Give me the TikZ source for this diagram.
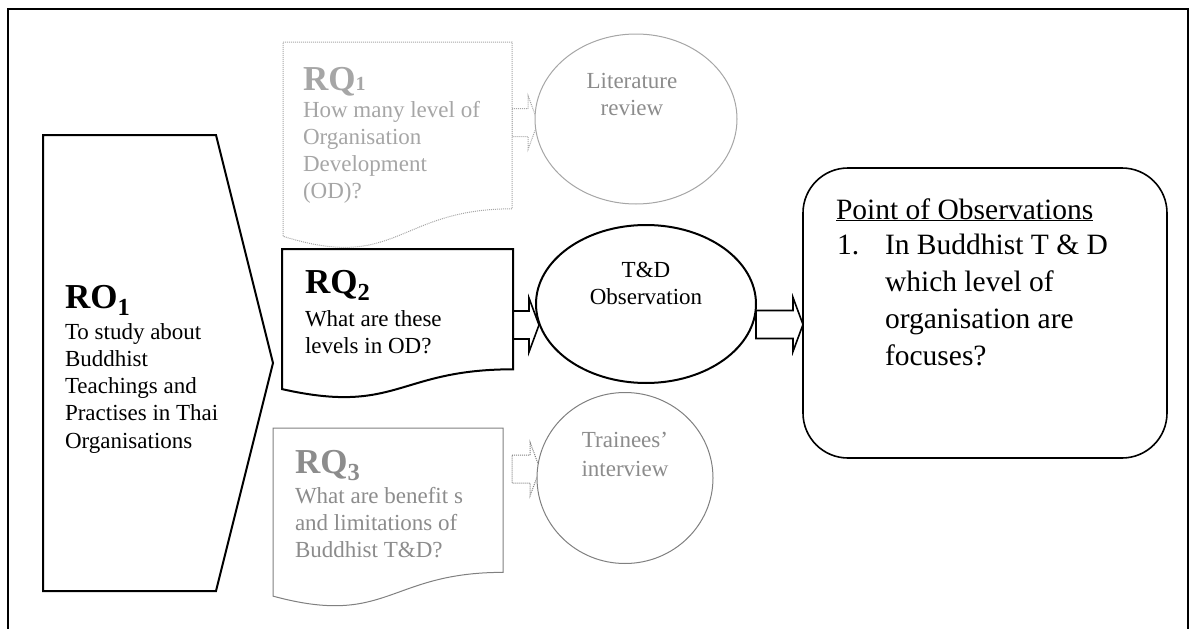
\documentclass[tikz,border=0pt]{standalone}
\usepackage{fontspec}
\setmainfont{Liberation Serif}
\usetikzlibrary{calc,shapes.geometric}
\pgfdeclarelayer{bg}
\pgfsetlayers{bg,main}
\newcommand\bodyfont{\fontsize{23}{27.3}\selectfont}
\newcommand\titlefont{\fontsize{35}{40}\selectfont\bfseries}
\newcommand\poofont{\fontsize{29.5}{37}\selectfont}
\newcommand\lbox[2]{\parbox[t]{#1pt}{\raggedright #2}}
\newcommand\cbox[2]{\parbox[t]{#1pt}{\centering #2}}
% block arrow: [style]{start}{tip}{y}{tip shift}
\newcommand\barrow[5][]{%
  \draw[#1] let \p1=(#2), \p2=(#3) in
    (\x1,-#4pt+14pt) -- (\x2+#5pt-10pt,-#4pt+14pt) -- (\x2+#5pt-10pt,-#4pt+27pt)
    -- (\x2+#5pt,-#4pt) -- (\x2+#5pt-10pt,-#4pt-27pt) -- (\x2+#5pt-10pt,-#4pt-14pt)
    -- (\x1,-#4pt-14pt) -- cycle;}
\newcommand\docpath[2][]{%
  \draw[#1] (#2.north west) -- (#2.north east) -- ($(#2.north east)!0.802!(#2.south east)$)
    .. controls ($(#2.north)!0.802!(#2.south)$) and ($(#2.north)!1.1075!(#2.south)$)
    .. ($(#2.north west)!0.934!(#2.south west)$) -- cycle;}
\tikzset{
  txt/.style={inner sep=0, outer sep=0, anchor=base west},
  ctxt/.style={inner sep=0, outer sep=0, anchor=base},
  frame/.style={inner sep=0, outer sep=0, anchor=north west, draw=none},
  blk/.style={draw=black, line width=2pt, fill=white},
  lite/.style={draw=black!35, line width=1pt, densely dotted, fill=white},
  mid/.style={draw=black!50, line width=1pt, fill=white},
  oval/.style={ellipse, inner sep=0, outer sep=0},
}
\begin{document}
\begin{tikzpicture}[x=1pt,y=-1pt]
\useasboundingbox (0,0) rectangle (1192,629);
% outer frame
\draw[line width=2pt] (8,650) -- (8,9) -- (1188,9) -- (1188,650);

% helper frames
\node[frame, minimum width=173pt, minimum height=456pt] (ro1) at (43,135) {};
\node[frame, minimum width=229pt, minimum height=208pt] (rq1) at (283,42) {};
\node[frame, minimum width=231pt, minimum height=150pt] (rq2) at (282,249) {};
\node[frame, minimum width=230pt, minimum height=180pt] (rq3) at (273,428) {};

% RO1 chevron
\draw[line width=2pt] (ro1.north west) -- (ro1.north east) -- ($(ro1.east)+(57,0)$)
  -- (ro1.south east) -- (ro1.south west) -- cycle;

% documents
\docpath[lite]{rq1}
\docpath[blk]{rq2}
\docpath[mid]{rq3}

% ovals and result box
\node[oval, lite, solid, minimum width=202pt, minimum height=170pt] (litE) at (636,119) {};
\node[oval, blk, minimum width=220pt, minimum height=158pt] (tdE) at (646,304) {};
\node[oval, mid, minimum width=176pt, minimum height=171pt] (trE) at (625,478) {};
\node[frame, draw=black, line width=1.6pt, rounded corners=45pt,
      minimum width=364pt, minimum height=290pt] (poo) at (803,168) {};

% block arrows
\begin{pgfonlayer}{bg}
\barrow[lite]{rq1.east}{litE.west}{122.5}{3}
\barrow[draw=black, line width=1.6pt, fill=white]{rq2.east}{tdE.west}{325}{3}
\barrow[draw=black, line width=1.6pt, fill=white]{tdE.east}{poo.west}{324.5}{0}
\barrow[mid, densely dotted]{$(rq3.east)+(9,0)$}{trE.west}{469}{3}
\end{pgfonlayer}

% texts
\node[txt] (ro1title) at (65,308) {\titlefont RO\textsubscript{1}};
\node[txt] (ro1body) at (65,339) {\lbox{200}{\bodyfont To study about\\Buddhist\\Teachings and\\Practises in Thai\\Organisations}};

\node[txt, text=black!35] (rq1title) at (303,90) {\titlefont RQ{\fontsize{20}{20}\selectfont 1}};
\node[txt, text=black!35] (rq1body) at (303,117) {\lbox{205}{\bodyfont How many level of\\Organisation\\Development\\(OD)?}};

\node[txt] (rq2title) at (305,293) {\titlefont RQ\textsubscript{2}};
\node[txt] (rq2body) at (305,326) {\lbox{205}{\bodyfont What are these\\levels in OD?}};

\node[txt, text=black!45] (rq3title) at (295,473) {\titlefont RQ\textsubscript{3}};
\node[txt, text=black!45] (rq3body) at (295,503) {\lbox{205}{\bodyfont What are benefit s\\and limitations of\\Buddhist T\&D?}};

\node[ctxt, text=black!45] (litT) at (632,88) {\cbox{160}{\bodyfont Literature\\review}};
\node[ctxt] (tdT) at (646,277) {\cbox{160}{\bodyfont T\&D\\Observation}};
\node[ctxt, text=black!45] (trT) at (625,447) {\cbox{160}{\fontsize{23}{29}\selectfont Trainees'\\interview}};

\node[txt] (poohead) at (836,219) {\poofont\underline{Point of Observations}};
\node[txt] (poonum) at (837,254) {\poofont 1.};
\node[txt] (pootext) at (885,254) {\lbox{290}{\poofont In Buddhist T \& D\\which level of\\organisation are\\focuses?}};
\end{tikzpicture}
\end{document}
